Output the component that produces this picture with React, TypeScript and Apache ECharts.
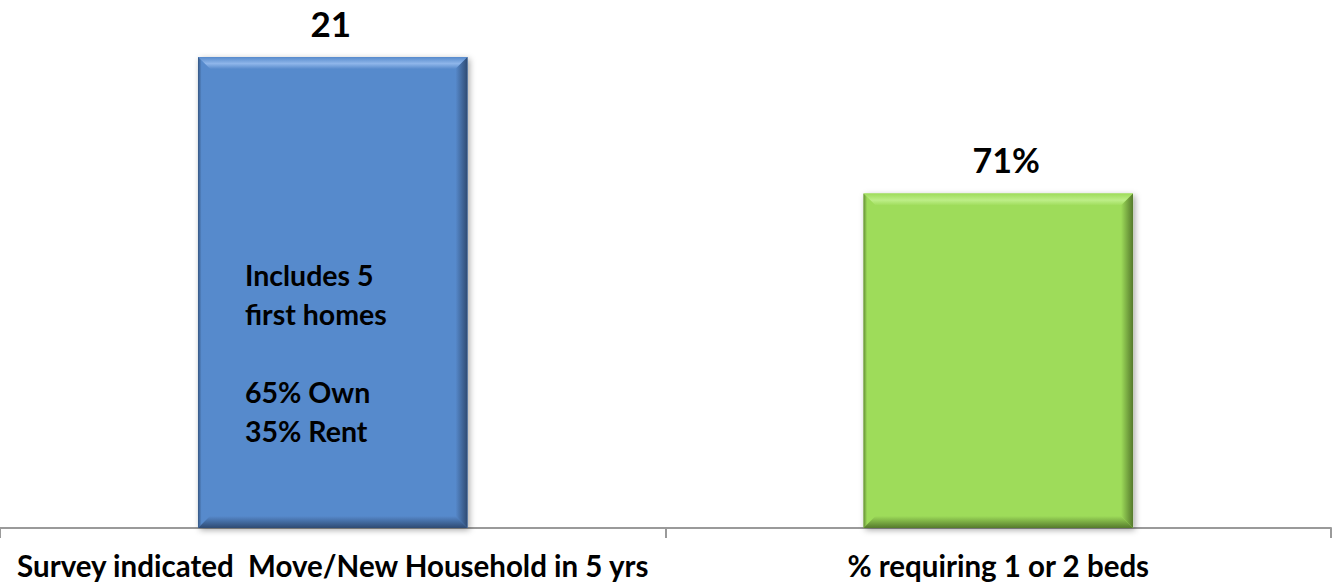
import React, { useEffect, useRef } from "react";
import * as echarts from "echarts";

const categories = ["Survey indicated  Move/New Household in 5 yrs", "% requiring 1 or 2 beds"];
const barHeights = [100, 71];
const barLabels = ["21", "71%"];
const barNotes = ["Includes 5\nfirst homes\n\n65% Own\n35% Rent", ""];
const barColors = [
  { main: "#578ACC", light: "#8FB6EA", dark: "#2E4A72" },
  { main: "#9EDC5A", light: "#BDEE87", dark: "#557A2C" },
];
const labelDx = [-2, 8];
const labelSize = [35, 34];

const FONT = "Lato, 'Noto Sans', sans-serif";

export default function App() {
  const ref = useRef<HTMLDivElement>(null);
  useEffect(() => {
    if (!ref.current) return;
    const chart = echarts.init(ref.current, undefined, { renderer: "svg" });
    const G = echarts.graphic;
    chart.setOption({
      animation: false,
      backgroundColor: "#ffffff",
      grid: { left: -3, right: 3, top: 57, bottom: 59 },
      xAxis: {
        type: "category",
        data: categories,
        axisLine: { show: true, lineStyle: { color: "#9A9A9A", width: 2 } },
        axisTick: { show: true, length: 10, lineStyle: { color: "#9A9A9A", width: 2 } },
        axisLabel: {
          interval: 0,
          color: "#000",
          fontSize: 29.5,
          fontWeight: "bold",
          fontFamily: FONT,
          margin: 22,
        },
      },
      yAxis: { type: "value", min: 0, max: 100, show: false },
      series: [
        {
          type: "custom",
          data: barHeights.map((v, i) => [i, v]),
          encode: { x: 0, y: 1 },
          renderItem: (params: any, api: any) => {
            const idx = api.value(0);
            const v = api.value(1);
            const top = api.coord([idx, v]);
            const base = api.coord([idx, 0]);
            const w = api.size([1, 0])[0] * 0.405;
            const x0 = top[0] - w / 2;
            const x1 = top[0] + w / 2;
            const y0 = top[1];
            const y1 = base[1];
            const b = 12;
            const c = barColors[idx];
            const children: any[] = [
              {
                type: "rect",
                shape: { x: x0, y: y0, width: w, height: y1 - y0 },
                style: {
                  fill: c.main,
                  shadowBlur: 6,
                  shadowColor: "rgba(0,0,0,0.35)",
                  shadowOffsetX: 2,
                  shadowOffsetY: 2,
                },
              },
              {
                type: "polygon",
                shape: { points: [[x0, y0], [x1, y0], [x1 - b, y0 + b], [x0 + b, y0 + b]] },
                style: {
                  fill: new G.LinearGradient(0, 0, 0, 1, [
                    { offset: 0, color: c.main },
                    { offset: 0.55, color: c.light },
                    { offset: 1, color: c.main },
                  ]),
                },
              },
              {
                type: "polygon",
                shape: { points: [[x0, y0], [x0 + b, y0 + b], [x0 + b, y1 - b], [x0, y1]] },
                style: {
                  fill: new G.LinearGradient(0, 0, 1, 0, [
                    { offset: 0, color: c.dark },
                    { offset: 0.3, color: c.main },
                    { offset: 1, color: c.main },
                  ]),
                  opacity: 0.8,
                },
              },
              {
                type: "polygon",
                shape: { points: [[x1, y0], [x1, y1], [x1 - b, y1 - b], [x1 - b, y0 + b]] },
                style: {
                  fill: new G.LinearGradient(0, 0, 1, 0, [
                    { offset: 0, color: c.main },
                    { offset: 1, color: c.dark },
                  ]),
                },
              },
              {
                type: "polygon",
                shape: { points: [[x0, y1], [x1, y1], [x1 - b, y1 - b], [x0 + b, y1 - b]] },
                style: {
                  fill: new G.LinearGradient(0, 0, 0, 1, [
                    { offset: 0, color: c.main },
                    { offset: 1, color: c.dark },
                  ]),
                },
              },
              {
                type: "text",
                style: {
                  text: barLabels[idx],
                  x: top[0] + labelDx[idx],
                  y: y0 - 34,
                  align: "center",
                  verticalAlign: "middle",
                  fill: "#000",
                  font: `bold ${labelSize[idx]}px ${FONT}`,
                },
              },
            ];
            if (barNotes[idx]) {
              children.push({
                type: "text",
                style: {
                  text: barNotes[idx],
                  x: x0 + 47,
                  y: y0 + 198,
                  align: "left",
                  verticalAlign: "top",
                  fill: "#000",
                  font: `bold 28.5px ${FONT}`,
                  lineHeight: 39,
                },
              });
            }
            return { type: "group", children };
          },
        },
      ],
    });
    return () => chart.dispose();
  }, []);
  return (
    <div
      ref={ref}
      style={{ position: "fixed", left: 0, top: 0, width: 1334, height: 587 }}
    />
  );
}
